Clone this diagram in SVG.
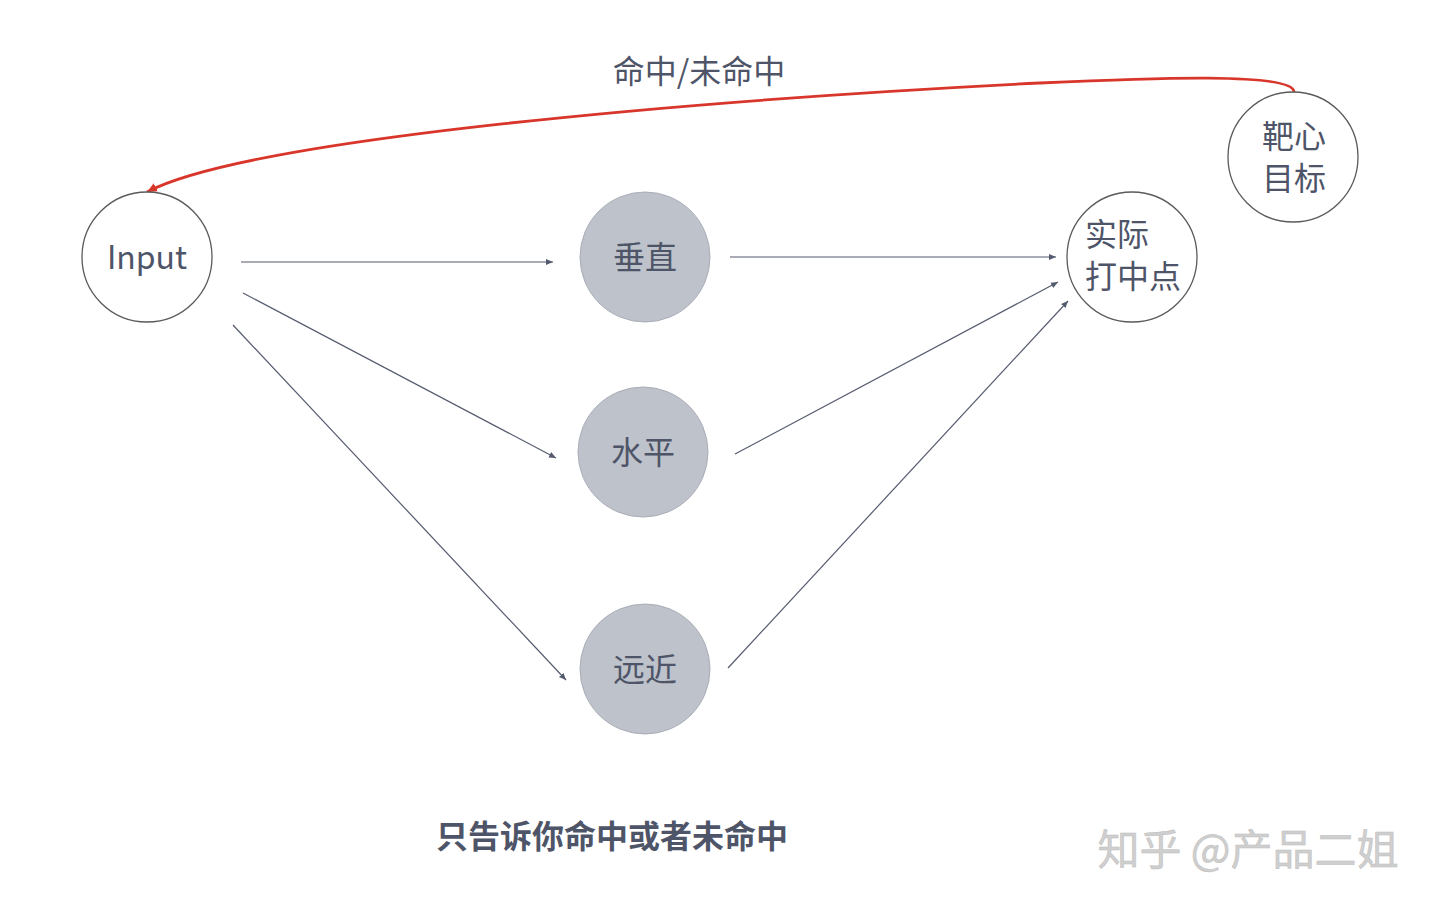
<svg xmlns="http://www.w3.org/2000/svg" width="1440" height="909" viewBox="0 0 1440 909">
<defs>
<style>
.t{font-family:"Noto Sans CJK SC","Noto Sans",sans-serif;fill:#4f5568;font-size:32px;text-anchor:middle}
.w{fill:#fff;stroke:#5a5a5a;stroke-width:1.3}
.g{fill:#bec2cb;stroke:#a9adb6;stroke-width:1}
.e{fill:none;stroke:#555b6e;stroke-width:1.2}
</style>
<marker id="a" markerWidth="8" markerHeight="8" refX="7" refY="4" orient="auto" markerUnits="userSpaceOnUse">
<path d="M0,1 L7,4 L0,7 Z" fill="#555b6e"/>
</marker>
<marker id="r" markerWidth="12" markerHeight="12" refX="10" refY="6" orient="auto" markerUnits="userSpaceOnUse">
<path d="M0,1.5 L10,6 L0,10.5 Z" fill="#d9362b"/>
</marker>
</defs>
<rect width="1440" height="909" fill="#fff"/>
<g id="connectors">
<line class="e" x1="241" y1="262" x2="553" y2="262" marker-end="url(#a)"/>
<line class="e" x1="243" y1="293" x2="556" y2="458" marker-end="url(#a)"/>
<line class="e" x1="233" y1="325" x2="566" y2="680" marker-end="url(#a)"/>
<line class="e" x1="730" y1="257" x2="1056" y2="257" marker-end="url(#a)"/>
<line class="e" x1="735" y1="454" x2="1058" y2="282" marker-end="url(#a)"/>
<line class="e" x1="728" y1="668" x2="1068" y2="301" marker-end="url(#a)"/>
<path d="M1294,92 C1294,72 1150,78 1040,83 C700,100 250,138 147,192" fill="none" stroke="#d9362b" stroke-width="2.8" marker-end="url(#r)"/>
<text class="t" x="699" y="83" font-size="31">命中/未命中</text>
</g>
<g id="input"><circle class="w" cx="147" cy="257" r="65"/><text class="t" x="147" y="269">Input</text></g>
<g id="chuizhi"><circle class="g" cx="645" cy="257" r="65"/><text class="t" x="645" y="269">垂直</text></g>
<g id="shuiping"><circle class="g" cx="643" cy="452" r="65"/><text class="t" x="643" y="464">水平</text></g>
<g id="yuanjin"><circle class="g" cx="645" cy="669" r="65"/><text class="t" x="645" y="681">远近</text></g>
<g id="shiji"><circle class="w" cx="1132" cy="257" r="65"/><text class="t" x="1117" y="246">实际</text><text class="t" x="1133" y="288">打中点</text></g>
<g id="baxin"><circle class="w" cx="1293" cy="157" r="65"/><text class="t" x="1294" y="148">靶心</text><text class="t" x="1294" y="190">目标</text></g>
<text class="t" x="612" y="848" font-size="36" font-weight="bold">只告诉你命中或者未命中</text>
<text x="1248" y="865" font-family="Noto Sans CJK SC,sans-serif" font-size="42" fill="#cfcfcf" text-anchor="middle" stroke="#bdbdbd" stroke-width="0.5">知乎 @产品二姐</text>
</svg>
